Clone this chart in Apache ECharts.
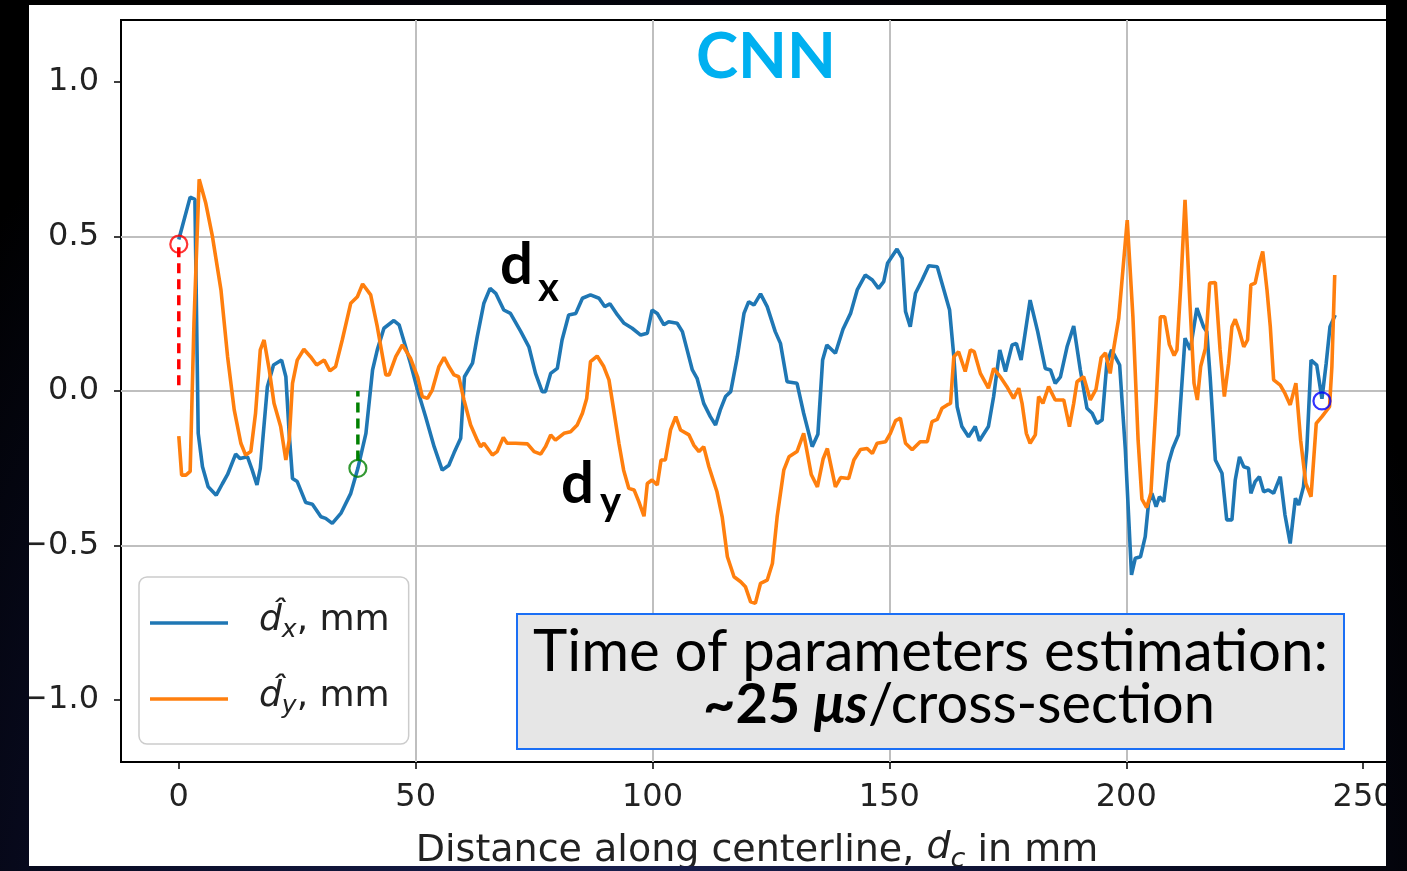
<!DOCTYPE html>
<html><head><meta charset="utf-8">
<script src="https://cdn.jsdelivr.net/npm/echarts@6/dist/echarts.min.js"></script>
<style>
html,body{margin:0;padding:0;width:1407px;height:871px;overflow:hidden;}
body{background:radial-gradient(ellipse at 45% 115%, #1b2255 0%, #0b0e2a 45%, #000 80%);}
#chart{position:absolute;left:29px;top:5px;width:1357px;height:861px;background:#fff;}
</style></head><body><div id="chart"></div>
<script>
const xTicks = [0, 50, 100, 150, 200, 250];
const yTicks = [-1.0, -0.5, 0.0, 0.5, 1.0];
const dxData = [[0,0.49],[2.4,0.627],[3.4,0.62],[4.1,-0.137],[5.0,-0.245],[6.2,-0.31],[7.9,-0.337],[9.2,-0.30],[10.3,-0.27],[12.0,-0.204],[12.9,-0.218],[14.5,-0.213],[15.5,-0.256],[16.5,-0.304],[17.2,-0.25],[18.7,0.014],[20.0,0.084],[21.7,0.10],[22.6,0.046],[23.3,-0.137],[24.0,-0.283],[25.0,-0.293],[26.8,-0.361],[28.2,-0.366],[30.0,-0.407],[31.0,-0.412],[32.4,-0.428],[34.2,-0.396],[36.3,-0.331],[37.8,-0.25],[39.5,-0.137],[40.9,0.068],[41.9,0.133],[43.3,0.203],[45.4,0.228],[46.5,0.214],[48.9,0.09],[50.4,0.003],[52.1,-0.083],[53.9,-0.18],[55.6,-0.256],[57.0,-0.24],[58.1,-0.20],[59.5,-0.153],[60.3,0.046],[62.0,0.09],[63.0,0.176],[64.4,0.284],[65.7,0.332],[66.9,0.316],[68.6,0.262],[70.0,0.251],[72.2,0.192],[73.9,0.143],[75.3,0.057],[76.7,-0.002],[77.4,-0.002],[78.5,0.057],[79.9,0.073],[80.9,0.165],[82.3,0.246],[83.8,0.251],[85.2,0.30],[86.9,0.311],[88.7,0.30],[89.9,0.273],[91.0,0.282],[92.6,0.246],[94.0,0.219],[95.7,0.203],[97.5,0.181],[98.9,0.187],[99.9,0.262],[101.0,0.251],[102.4,0.214],[103.4,0.224],[105.2,0.219],[106.3,0.192],[107.3,0.133],[108.4,0.068],[109.4,0.041],[110.8,-0.04],[112.2,-0.083],[113.3,-0.11],[114.3,-0.061],[115.4,-0.018],[116.5,-0.002],[117.9,0.111],[119.3,0.251],[120.3,0.289],[121.4,0.278],[122.8,0.314],[124.2,0.273],[125.9,0.192],[127.0,0.154],[128.4,0.03],[130.5,0.025],[131.9,-0.072],[133.7,-0.18],[134.9,-0.14],[135.9,0.10],[136.8,0.149],[138.6,0.122],[140.2,0.20],[141.8,0.251],[143.2,0.327],[144.9,0.375],[146.4,0.359],[147.7,0.332],[148.8,0.354],[149.6,0.413],[151.6,0.459],[152.7,0.429],[153.4,0.257],[154.4,0.208],[155.5,0.316],[156.9,0.359],[158.3,0.405],[160.1,0.402],[161.5,0.327],[162.7,0.262],[163.6,0.111],[164.3,-0.051],[165.3,-0.115],[166.7,-0.148],[168.1,-0.115],[169.0,-0.161],[170.9,-0.115],[172.0,-0.018],[173.3,0.133],[174.5,0.063],[175.9,0.149],[176.8,0.154],[177.8,0.10],[179.7,0.294],[181.3,0.192],[182.9,0.073],[184.0,0.068],[185.0,0.025],[186.1,0.046],[187.5,0.143],[188.9,0.21],[190.3,0.068],[191.7,-0.056],[192.8,-0.072],[193.8,-0.105],[194.9,-0.094],[195.9,0.09],[196.9,0.133],[198.6,0.084],[199.8,-0.19],[200.5,-0.407],[201.1,-0.595],[201.9,-0.541],[203.0,-0.536],[204.0,-0.471],[204.7,-0.363],[205.4,-0.331],[206.3,-0.374],[207.0,-0.342],[207.9,-0.358],[208.9,-0.234],[209.8,-0.186],[211.0,-0.142],[212.4,0.171],[213.5,0.133],[214.9,0.268],[216.3,0.208],[217.0,0.192],[217.7,0.046],[218.8,-0.223],[220.2,-0.266],[221.2,-0.417],[222.3,-0.417],[223.0,-0.288],[223.9,-0.213],[224.8,-0.245],[225.8,-0.25],[226.3,-0.331],[227.2,-0.293],[228.1,-0.277],[229.0,-0.326],[230.0,-0.32],[231.1,-0.331],[232.5,-0.277],[233.5,-0.401],[234.6,-0.493],[235.7,-0.347],[236.4,-0.369],[237.4,-0.31],[238.1,-0.19],[239.0,0.10],[240.2,0.084],[241.3,-0.025],[242.2,0.09],[243.0,0.208],[244.1,0.246]];
const dyData = [[0,-0.146],[0.6,-0.272],[1.5,-0.272],[2.4,-0.26],[3.2,0.219],[4.3,0.685],[5.7,0.607],[7.1,0.50],[8.9,0.327],[10.3,0.111],[11.7,-0.061],[13.1,-0.169],[14.1,-0.207],[15.2,-0.196],[16.2,-0.072],[17.2,0.133],[18.0,0.165],[19.1,0.068],[20.1,-0.04],[21.5,-0.115],[22.6,-0.223],[23.3,-0.159],[24.0,0.025],[25.0,0.10],[26.4,0.135],[27.8,0.111],[29.1,0.084],[30.7,0.10],[31.9,0.065],[33.1,0.079],[34.5,0.165],[36.3,0.284],[37.7,0.305],[38.8,0.346],[40.5,0.311],[41.9,0.208],[43.7,0.052],[44.4,0.052],[45.8,0.111],[47.2,0.149],[48.9,0.106],[50.4,0.046],[51.4,-0.018],[52.5,-0.024],[53.5,0.003],[54.9,0.079],[56.0,0.109],[57.0,0.079],[58.1,0.052],[59.1,0.046],[60.2,-0.029],[61.6,-0.11],[63.0,-0.159],[63.7,-0.18],[64.4,-0.169],[66.2,-0.207],[67.2,-0.196],[68.5,-0.15],[69.3,-0.169],[71.1,-0.169],[73.6,-0.171],[75.0,-0.196],[76.4,-0.204],[77.4,-0.18],[78.5,-0.142],[79.5,-0.159],[81.3,-0.137],[82.7,-0.132],[84.1,-0.11],[85.2,-0.072],[86.1,-0.024],[86.9,0.095],[88.3,0.113],[89.7,0.079],[90.8,0.036],[91.8,-0.061],[92.9,-0.169],[93.9,-0.256],[95.0,-0.315],[96.1,-0.32],[97.1,-0.358],[98.2,-0.405],[98.9,-0.299],[99.9,-0.288],[101.0,-0.304],[101.8,-0.223],[102.7,-0.223],[103.8,-0.126],[104.9,-0.083],[105.9,-0.126],[107.7,-0.142],[108.7,-0.175],[109.8,-0.196],[110.8,-0.18],[111.9,-0.245],[113.6,-0.326],[114.7,-0.407],[115.8,-0.536],[117.2,-0.601],[118.6,-0.617],[119.6,-0.633],[120.7,-0.682],[121.7,-0.687],[122.8,-0.622],[124.2,-0.612],[125.3,-0.558],[126.3,-0.407],[127.7,-0.256],[128.8,-0.213],[130.5,-0.196],[131.9,-0.137],[133.5,-0.27],[134.8,-0.31],[136.0,-0.22],[136.9,-0.186],[138.6,-0.31],[139.7,-0.28],[141.4,-0.283],[142.5,-0.223],[143.9,-0.189],[145.3,-0.186],[146.4,-0.202],[147.4,-0.169],[149.2,-0.164],[150.2,-0.137],[151.3,-0.096],[152.3,-0.088],[153.4,-0.169],[154.8,-0.19],[156.5,-0.164],[158.0,-0.164],[159.0,-0.099],[160.1,-0.092],[161.1,-0.056],[162.2,-0.045],[162.9,-0.04],[163.6,0.111],[164.6,0.127],[166.0,0.063],[167.1,0.133],[167.9,0.127],[169.2,0.057],[170.9,0.009],[172.0,0.073],[173.4,0.046],[174.8,0.014],[176.2,-0.024],[177.3,0.009],[178.0,-0.04],[178.9,-0.137],[179.7,-0.169],[180.8,-0.142],[181.5,-0.018],[182.4,-0.04],[183.6,0.014],[185.0,-0.029],[186.8,-0.029],[188.0,-0.115],[188.9,-0.04],[189.6,0.03],[191.0,0.046],[192.4,-0.029],[193.6,0.005],[194.7,0.108],[195.6,0.123],[196.6,0.057],[197.3,0.133],[198.4,0.235],[200.2,0.553],[201.4,0.24],[202.5,-0.16],[203.3,-0.35],[204.3,-0.377],[205.2,-0.33],[206.3,-0.035],[207.2,0.24],[208.1,0.24],[209.1,0.15],[210.1,0.115],[210.7,0.133],[211.5,0.34],[212.4,0.618],[213.4,0.294],[214.3,0.025],[215.0,-0.029],[215.7,0.079],[216.7,0.138],[217.6,0.349],[218.8,0.351],[219.8,0.133],[220.7,-0.018],[221.6,0.09],[222.3,0.208],[223.0,0.232],[223.9,0.192],[224.8,0.143],[225.6,0.165],[226.3,0.343],[227.2,0.349],[228.1,0.413],[228.8,0.451],[229.7,0.327],[230.4,0.208],[231.1,0.036],[232.5,0.019],[233.5,-0.008],[234.6,-0.045],[235.8,0.025],[236.8,-0.159],[237.9,-0.299],[239.0,-0.342],[240.1,-0.105],[241.3,-0.083],[242.9,-0.051],[243.4,0.079],[244.0,0.375]];
const redPoint = [[0, 0.475]];
const redStem = [[0, 0.465], [0, 0.0]];
const greenPoint = [[37.8, -0.25]];
const greenStem = [[37.8, -0.225], [37.8, 0.0]];
const bluePoint = [[241.3, -0.032]];
const seriesNames = ['dx', 'dy'];

const mctx = document.createElement('canvas').getContext('2d');
function tw(font, t) { mctx.font = font; return mctx.measureText(t).width; }
const BOXF = 'Lato';
const line1 = 'Time of parameters estimation:';
const s1 = 100 * 795 / tw('normal 100px ' + BOXF, line1);
const w2 = tw('bold 100px ' + BOXF, '~25 ') + tw('italic bold 100px ' + BOXF, 'μs') + tw('normal 100px ' + BOXF, '/cross-section');
const s2 = 100 * 512 / w2;
const sC = 100 * 140 / tw('bold 100px ' + BOXF, 'CNN');

const TICKF = 'DejaVu Sans';
const fmtY = v => (v < 0 ? '\u2212' : '') + Math.abs(v).toFixed(1);
function annText(t, x, y, size) {
  return { type: 'text', z: 100, style: { text: t, x: x, y: y, align: 'left', verticalAlign: 'middle', fontFamily: BOXF, fontWeight: 'bold', fontSize: size, fill: '#000' } };
}

const chart = echarts.init(document.getElementById('chart'), null, {renderer: 'canvas'});
const option = {
  animation: false,
  backgroundColor: '#fff',
  grid: { left: 92, top: 15, width: 1272, height: 742, show: true, borderColor: '#000', borderWidth: 2, backgroundColor: 'transparent', containLabel: false, outerBoundsMode: 'none' },
  xAxis: {
    type: 'value', min: -12.2, max: 256.3, splitNumber: 5,
    axisLine: { show: false, onZero: false },
    axisTick: { show: true, customValues: xTicks, length: 7, lineStyle: { color: '#000', width: 1.5 } },
    axisLabel: { customValues: xTicks, margin: 20, fontFamily: TICKF, fontSize: 32, color: '#222' },
    splitLine: { show: true, showMinLine: false, showMaxLine: false, lineStyle: { color: '#bfbfbf', width: 2 } },
    name: 'Distance along centerline, {i|d}{s|c} in mm',
    nameLocation: 'middle', nameGap: 67,
    nameTextStyle: {
      fontFamily: TICKF, fontSize: 38, color: '#222',
      rich: {
        i: { fontFamily: TICKF, fontSize: 38, fontStyle: 'italic', color: '#222', lineHeight: 44, verticalAlign: 'top' },
        s: { fontFamily: TICKF, fontSize: 27, fontStyle: 'italic', color: '#222', lineHeight: 27, verticalAlign: 'bottom' }
      }
    }
  },
  yAxis: {
    type: 'value', min: -1.2, max: 1.2, splitNumber: 5,
    axisLine: { show: false, onZero: false },
    axisTick: { show: true, customValues: yTicks, length: 7, lineStyle: { color: '#000', width: 1.5 } },
    axisLabel: { customValues: yTicks, margin: 22, fontFamily: TICKF, fontSize: 32, color: '#222', formatter: fmtY },
    splitLine: { show: true, showMinLine: false, showMaxLine: false, lineStyle: { color: '#bfbfbf', width: 2 } }
  },
  legend: {
    data: [{ name: seriesNames[0], icon: 'rect' }, { name: seriesNames[1], icon: 'rect' }],
    orient: 'vertical', left: 110, top: 572,
    itemWidth: 78, itemHeight: 3.5, itemGap: 36,
    padding: [26, 19, 25, 11],
    backgroundColor: 'rgba(255,255,255,0.8)', borderColor: '#cccccc', borderWidth: 1.5, borderRadius: 8,
    formatter: n => n === 'dx' ? '{g|}{d|d\u0302}{s|x}{t|, mm}' : '{g|}{d|d\u0302}{s|y}{t|, mm}',
    textStyle: {
      fontFamily: TICKF, fontSize: 36, color: '#222',
      rich: {
        g: { width: 26 },
        d: { fontFamily: TICKF, fontSize: 36, fontStyle: 'italic', color: '#222', lineHeight: 40, verticalAlign: 'top' },
        s: { fontFamily: TICKF, fontSize: 25, fontStyle: 'italic', color: '#222', lineHeight: 25, verticalAlign: 'bottom' },
        t: { fontFamily: TICKF, fontSize: 36, color: '#222', lineHeight: 40, verticalAlign: 'top' }
      }
    }
  },
  series: [
    { name: 'dx', type: 'line', data: dxData, symbol: 'none', lineStyle: { color: '#1f77b4', width: 3.6 }, itemStyle: { color: '#1f77b4' }, z: 3 },
    { name: 'dy', type: 'line', data: dyData, symbol: 'none', lineStyle: { color: '#ff7f0e', width: 3.6 }, itemStyle: { color: '#ff7f0e' }, z: 4 },
    { name: 'redStem', type: 'line', data: redStem, symbol: 'none', lineStyle: { color: '#ff0000', width: 3.5, type: [10, 6] }, z: 5 },
    { name: 'greenStem', type: 'line', data: greenStem, symbol: 'none', lineStyle: { color: '#008000', width: 3.5, type: [10, 6] }, z: 5 },
    { name: 'redPt', type: 'scatter', data: redPoint, symbol: 'circle', symbolSize: 17, itemStyle: { color: 'rgba(0,0,0,0)', borderColor: '#ff0000', borderWidth: 2.2 }, z: 6 },
    { name: 'greenPt', type: 'scatter', data: greenPoint, symbol: 'circle', symbolSize: 17, itemStyle: { color: 'rgba(0,0,0,0)', borderColor: '#008000', borderWidth: 2.2 }, z: 6 },
    { name: 'bluePt', type: 'scatter', data: bluePoint, symbol: 'circle', symbolSize: 17, itemStyle: { color: 'rgba(0,0,0,0)', borderColor: '#0000ff', borderWidth: 2.2 }, z: 6 }
  ],
  graphic: { elements: [
    { type: 'text', z: 100, style: { text: 'CNN', x: 737, y: 52, align: 'center', verticalAlign: 'middle', fontFamily: BOXF, fontWeight: 'bold', fontSize: sC, fill: '#00b0f0' } },
    annText('d', 471, 260.5, 58),
    annText('x', 509, 283.5, 40),
    annText('d', 532, 479.5, 58),
    annText('y', 571, 497.5, 40),
    { type: 'rect', z: 100, shape: { x: 488, y: 609, width: 827, height: 135 }, style: { fill: '#e6e6e6', stroke: '#1b6ff5', lineWidth: 2 } },
    { type: 'text', z: 101, style: { text: line1, x: 901.5, y: 668 - 0.36 * s1, align: 'center', verticalAlign: 'middle', fontFamily: BOXF, fontSize: s1, fill: '#000' } },
    { type: 'text', z: 101, style: { text: '{b|~25 }{bi|μs}{r|/cross-section}', x: 930, y: 720 - 0.36 * s2, align: 'center', verticalAlign: 'middle',
        rich: { b: { fontFamily: BOXF, fontWeight: 'bold', fontSize: s2, fill: '#000' },
                bi: { fontFamily: BOXF, fontWeight: 'bold', fontStyle: 'italic', fontSize: s2, fill: '#000' },
                r: { fontFamily: BOXF, fontSize: s2, fill: '#000' } } } }
  ] }
};
chart.setOption(option);
</script></body></html>
